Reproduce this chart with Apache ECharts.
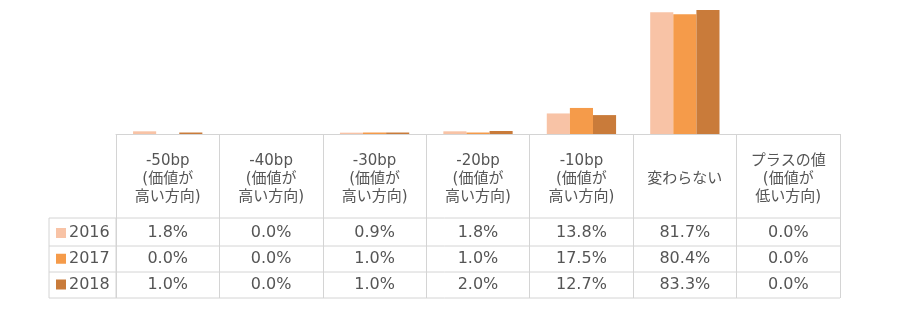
<!DOCTYPE html>
<html><head><meta charset="utf-8">
<script src="https://cdn.jsdelivr.net/npm/echarts@6/dist/echarts.min.js"></script>
<style>html,body{margin:0;padding:0;background:#fff}#c{width:903px;height:310px}</style>
</head><body><div id="c"></div>
<script>
const categories = ['-50bp\n(価値が\n高い方向)','-40bp\n(価値が\n高い方向)','-30bp\n(価値が\n高い方向)','-20bp\n(価値が\n高い方向)','-10bp\n(価値が\n高い方向)','変わらない','プラスの値\n(価値が\n低い方向)'];
const seriesNames = ['2016','2017','2018'];
const v2016 = [1.8, 0.0, 0.9, 1.8, 13.8, 81.7, 0.0];
const v2017 = [0.0, 0.0, 1.0, 1.0, 17.5, 80.4, 0.0];
const v2018 = [1.0, 0.0, 1.0, 2.0, 12.7, 83.3, 0.0];
const colors = ['#F8C3A6','#F59B4A','#C97B3A'];
const allValues = [v2016, v2017, v2018];

const FONT = '"DejaVu Sans", "Noto Sans CJK JP", sans-serif';
const TEXT = '#555';
const LINE = '#d4d4d4';
const gridLeft = 116, gridRight = 840, base = 134;
const rowLines = [218, 246, 272, 298];
const rowCenters = [233, 258.5, 284.5];
const tableLeft = 49;

const chart = echarts.init(document.getElementById('c'));
const valueAxes = allValues.map((vals, i) => ({
  type: 'category', data: categories, position: 'bottom', gridIndex: 0,
  axisLine: {show: false}, axisTick: {show: false},
  axisLabel: {
    interval: 0, margin: rowCenters[i] - base, verticalAlign: 'middle',
    fontFamily: FONT, fontSize: 16, color: TEXT,
    formatter: (v, idx) => vals[idx].toFixed(1) + '%'
  }
}));

const lines = [];
lines.push({type:'line', shape:{x1:gridLeft, y1:rowLines[0], x2:gridLeft, y2:rowLines[3]}, style:{stroke:LINE, lineWidth:1}});
lines.push({type:'line', shape:{x1:tableLeft, y1:rowLines[0], x2:tableLeft, y2:rowLines[3]}, style:{stroke:LINE, lineWidth:1}});
rowLines.forEach(y => lines.push({type:'line', shape:{x1:tableLeft, y1:y, x2:gridRight, y2:y}, style:{stroke:LINE, lineWidth:1}}));

chart.setOption({
  animation: false,
  color: colors,
  grid: {left: gridLeft, right: 903 - gridRight, top: 0, height: base, containLabel: false},
  legend: {
    orient: 'vertical', left: 56, top: 225, padding: 0, itemGap: 9.75, itemWidth: 10, itemHeight: 10, icon: 'rect',
    textStyle: {fontFamily: FONT, fontSize: 16, lineHeight: 16, color: TEXT, padding: [0,0,0,-2]},
    data: seriesNames
  },
  xAxis: [{
    type: 'category', data: categories, position: 'bottom',
    axisLine: {show: true, lineStyle: {color: LINE}},
    axisTick: {show: true, length: rowLines[3] - base, lineStyle: {color: LINE}},
    axisLabel: {interval: 0, margin: 45, verticalAlign: 'middle', fontFamily: FONT, fontSize: 15, lineHeight: 18, color: TEXT, align: 'center'}
  }].concat(valueAxes),
  yAxis: {type: 'value', min: 0, max: 90, show: false},
  series: allValues.map((vals, i) => ({
    name: seriesNames[i], type: 'bar', data: vals, barGap: '0%', barCategoryGap: '33%',
    itemStyle: {color: colors[i]}
  })),
  graphic: lines
});
</script></body></html>
